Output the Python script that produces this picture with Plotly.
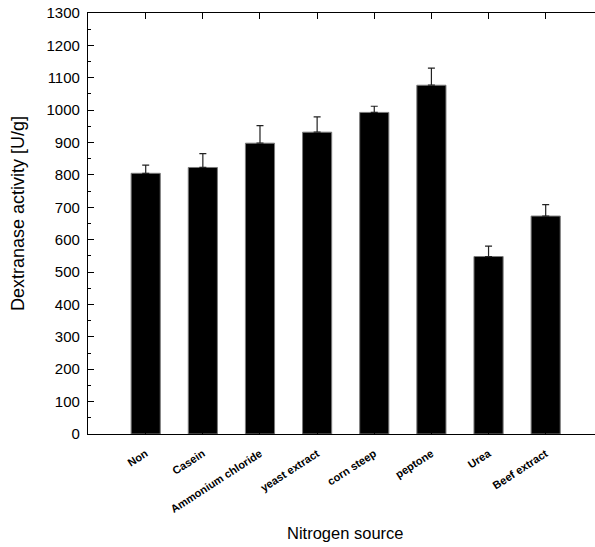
import plotly.graph_objects as go

categories = ["Non", "Casein", "Ammonium chloride", "yeast extract", "corn steep", "peptone", "Urea", "Beef extract"]
activity = [805, 823, 898, 932, 993, 1077, 548, 673]
error_up = [25, 43, 54, 47, 19, 53, 32, 35]

x_idx = list(range(len(categories)))
font_main = "Liberation Sans, Arial, sans-serif"

fig = go.Figure()
fig.add_trace(go.Bar(
    x=x_idx, y=activity, width=0.51,
    marker=dict(color="black", line=dict(color="#7a7a7a", width=1)),
    error_y=dict(type="data", array=error_up, arrayminus=[0]*len(error_up), symmetric=False,
                 color="#222222", thickness=1.2, width=3.5),
    showlegend=False,
))

fig.update_layout(
    width=595, height=547,
    margin=dict(l=88, r=0, t=13, b=113),
    plot_bgcolor="white", paper_bgcolor="white",
    font=dict(family=font_main, color="black"),
    xaxis=dict(
        range=[-1.01, 7.863],
        tickmode="array", tickvals=x_idx, ticktext=categories,
        tickangle=-33,
        tickfont=dict(family=font_main, size=11, color="black", weight="bold"),
        ticks="inside", ticklen=6, tickcolor="black", tickwidth=1,
        ticklabelstandoff=8,
        showline=True, linecolor="black", linewidth=1.2, mirror="ticks",
        showgrid=False, zeroline=False, automargin=False,
    ),
    yaxis=dict(
        range=[0, 1300], dtick=100,
        tickfont=dict(family=font_main, size=15, color="black"),
        ticks="inside", ticklen=6, tickcolor="black", tickwidth=1,
        minor=dict(dtick=50, ticks="inside", ticklen=3, tickcolor="black", tickwidth=1),
        showline=True, linecolor="black", linewidth=1.2, mirror=False,
        showgrid=False, zeroline=False, automargin=False,
        ticklabelstandoff=4,
    ),
    annotations=[
        dict(text="Nitrogen source", xref="paper", yref="paper", x=0.507, y=-0.235,
             xanchor="center", yanchor="middle", showarrow=False,
             font=dict(size=16.5, family=font_main, color="black")),
        dict(text="Dextranase activity [U/g]", xref="paper", yref="paper", x=-0.138, y=0.5226,
             xanchor="center", yanchor="middle", textangle=-90, showarrow=False,
             font=dict(size=18, family=font_main, color="black")),
    ],
)

fig.write_html("out.html")
